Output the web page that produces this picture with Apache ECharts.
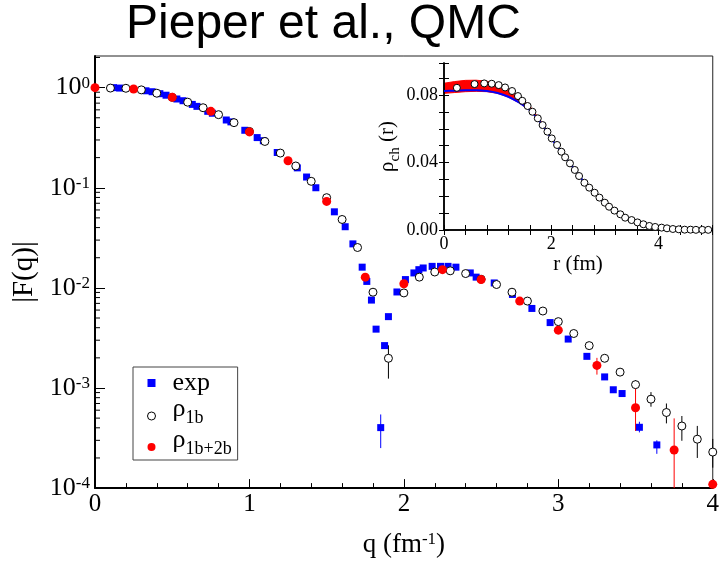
<!DOCTYPE html>
<html>
<head>
<meta charset="utf-8">
<script src="https://cdn.jsdelivr.net/npm/echarts@6/dist/echarts.min.js"></script>
<style>
  html, body { margin: 0; padding: 0; background: #fff; }
  #chart { width: 722px; height: 563px; }
</style>
</head>
<body>
<div id="chart"></div>
<script>
// Charge form factor |F(q)|: experiment vs. QMC with one-body and one+two-body operators.
const qExp = [0.12, 0.16, 0.33, 0.37, 0.42, 0.46, 0.53, 0.57, 0.63, 0.66, 0.73, 0.76, 0.85, 0.88, 0.97,
  1.05, 1.09, 1.18, 1.31, 1.37, 1.43, 1.55, 1.62, 1.67, 1.73, 1.76, 1.79, 1.82, 1.85, 1.875, 1.90,
  1.955, 2.01, 2.065, 2.097, 2.125, 2.183, 2.237, 2.286, 2.337, 2.43, 2.468, 2.585, 2.703, 2.829,
  2.947, 3.064, 3.185, 3.30, 3.356, 3.413, 3.525, 3.638];
const fExp = [1.0, 0.99, 0.93, 0.91, 0.87, 0.84, 0.77, 0.74, 0.68, 0.65, 0.58, 0.555, 0.475, 0.455, 0.375,
  0.317, 0.295, 0.225, 0.158, 0.128, 0.100, 0.0575, 0.0408, 0.0275, 0.0161, 0.0116, 0.00755, 0.00387, 0.000402, 0.00265, 0.00516,
  0.0091, 0.0121, 0.0141, 0.0152, 0.0158, 0.0164, 0.0164, 0.0164, 0.0161, 0.0141, 0.0128, 0.0112, 0.0086, 0.00623,
  0.0045, 0.00308, 0.00207, 0.00129, 0.00096, 0.00088, 0.000405, 0.00027];
const expErr = [[1.85, 0.000251, 0.000544], [3.525, 0.00036, 0.00046], [3.638, 0.00022, 0.0003]];

const q1b = [0.1, 0.2, 0.3, 0.4, 0.5, 0.6, 0.7, 0.8, 0.9, 1.0, 1.1, 1.2, 1.3, 1.4, 1.5, 1.6, 1.7, 1.8, 1.9, 2.0,
  2.1, 2.2, 2.3, 2.4, 2.5, 2.6, 2.7, 2.8, 2.9, 3.0, 3.1, 3.2, 3.3, 3.4, 3.5, 3.6, 3.7, 3.8, 3.9, 4.0];
const f1b = [0.99, 0.985, 0.95, 0.88, 0.80, 0.716, 0.63, 0.537, 0.447, 0.365, 0.29, 0.222, 0.165, 0.116, 0.0796, 0.0482, 0.0253, 0.00905, 0.00198, 0.0089,
  0.0128, 0.0144, 0.0148, 0.0139, 0.0122, 0.0108, 0.00905, 0.00738, 0.00587, 0.0046, 0.0035, 0.00265, 0.00198, 0.00144, 0.00108, 0.000773, 0.000569, 0.000417, 0.000308, 0.000229];
const err1b = [[1.9, 0.00124, 0.00267], [3.5, 0.00095, 0.0012], [3.6, 0.00065, 0.00091], [3.7, 0.000443, 0.0007],
  [3.8, 0.000297, 0.000525], [3.9, 0.0002, 0.000418], [4.0, 0.00016, 0.00031]];

const q12b = [0, 0.25, 0.5, 0.75, 1.0, 1.25, 1.5, 1.75, 2.0, 2.25, 2.5, 2.75, 3.0, 3.25, 3.5, 3.75, 4.0];
const f12b = [1.0, 0.97, 0.80, 0.58, 0.361, 0.186, 0.073, 0.0128, 0.0110, 0.0152, 0.0121, 0.00738, 0.00378, 0.00168, 0.000634, 0.00024, 0.000109];
const err12b = [[3.25, 0.00136, 0.002], [3.5, 0.000372, 0.00108], [3.75, 0.00001, 0.000497]];

// Inset: charge density rho_ch(r)
const rLine = [0, 0.2, 0.4, 0.6, 0.8, 1.0, 1.2, 1.4, 1.6, 1.8, 2.0, 2.2, 2.4, 2.6, 2.8, 3.0, 3.2, 3.4, 3.6, 3.8, 4.0, 4.2, 4.4, 4.6, 4.8, 5.0];
const rhoExp = [0.0824, 0.0826, 0.0828, 0.0828, 0.0824, 0.0812, 0.0790, 0.0756, 0.0712, 0.0638, 0.0545, 0.0458, 0.0374,
  0.0290, 0.0222, 0.0160, 0.0112, 0.0073, 0.0046, 0.0027, 0.0016, 0.0009, 0.0005, 0.0003, 0.0002, 0.0001];
const rBand = [0, 0.2, 0.4, 0.6, 0.8, 1.0, 1.2, 1.4, 1.6, 1.8, 2.0];
const bandLow = [0.0810, 0.0815, 0.0820, 0.0822, 0.0820, 0.0810, 0.0788, 0.0754, 0.0710, 0.0636, 0.0544];
const bandHigh = [0.0870, 0.0880, 0.0887, 0.0888, 0.0882, 0.0866, 0.0838, 0.0795, 0.0735, 0.0650, 0.0550];
const r1b = [0.24, 0.57, 0.75, 0.89, 1.02, 1.14, 1.27, 1.38, 1.46, 1.56, 1.65, 1.75, 1.84, 1.93, 2.01, 2.11, 2.19, 2.26,
  2.35, 2.44, 2.52, 2.62, 2.71, 2.81, 2.90, 3.00, 3.08, 3.18, 3.29, 3.38, 3.50, 3.61, 3.72, 3.83, 3.94, 4.06, 4.16,
  4.27, 4.38, 4.49, 4.60, 4.70, 4.82, 4.93];
const rho1b = [0.0843, 0.0865, 0.0869, 0.0867, 0.0859, 0.0845, 0.0824, 0.0794, 0.0766, 0.0735, 0.0701, 0.0662, 0.0622,
  0.0583, 0.0543, 0.0504, 0.0464, 0.0431, 0.0395, 0.0356, 0.0320, 0.0280, 0.0251, 0.0221, 0.0192, 0.0162, 0.0138,
  0.0115, 0.0093, 0.0073, 0.0059, 0.0045, 0.0034, 0.0024, 0.0018, 0.0014, 0.0010, 0.0006, 0.0004, 0.0002, 0.0002,
  0.0001, 0.0001, 0.0001];

const SERIF = 'Liberation Serif, Times New Roman, serif';
const BLUE = '#0000ff', RED = '#ff0000';

const pairs = (xs, ys) => xs.map((x, i) => [x, ys[i]]);

// log-axis minor ticks at 2..9 x 10^k
const yMinor = [];
for (let k = -4; k <= 0; k++) {
  for (let m = 2; m <= 9; m++) {
    const v = m * Math.pow(10, k);
    if (v < 2.07) yMinor.push([0, v]);
  }
}

function errorBarRenderer(color) {
  return function (params, api) {
    const x = api.value(0), lo = api.value(1), hi = api.value(2);
    const pHi = api.coord([x, hi]);
    const pLo = api.coord([x, lo]);
    const cs = params.coordSys;
    const y1 = Math.max(pHi[1], cs.y);
    const y2 = Math.min(pLo[1], cs.y + cs.height);
    return {
      type: 'line',
      shape: { x1: pHi[0], y1: y1, x2: pHi[0], y2: y2 },
      style: { stroke: color, lineWidth: 1 }
    };
  };
}

const supRich = {
  b: { fontFamily: SERIF, fontSize: 26, lineHeight: 26, color: '#000', padding: [11, 0, 0, 0], verticalAlign: 'bottom' },
  s: { fontFamily: SERIF, fontSize: 17, lineHeight: 17, color: '#000', verticalAlign: 'top' }
};

const chart = echarts.init(document.getElementById('chart'));
chart.setOption({
  animation: false,
  backgroundColor: '#fff',
  title: {
    text: 'Pieper et al., QMC',
    left: 126, top: 1, padding: 0,
    textStyle: { fontFamily: 'Liberation Sans, Arial, sans-serif', fontSize: 48, fontWeight: 'normal', color: '#000' }
  },
  legend: {
    orient: 'vertical',
    left: 133, top: 367,
    padding: [3, 6, 2, 14],
    itemGap: 0,
    itemWidth: 8, itemHeight: 8,
    borderColor: '#444', borderWidth: 1,
    backgroundColor: '#fff',
    data: [
      { name: 'exp', icon: 'rect', itemStyle: { color: BLUE } },
      { name: 'ρ1b', icon: 'circle', itemStyle: { color: '#fff', borderColor: '#000', borderWidth: 1 } },
      { name: 'ρ1b+2b', icon: 'circle', itemStyle: { color: RED } }
    ],
    formatter: function (name) {
      if (name === 'exp') return '{t|exp}';
      return '{r|ρ}{u|' + name.slice(1) + '}';
    },
    textStyle: {
      padding: [0, 0, 0, 12],
      rich: {
        t: { fontFamily: SERIF, fontSize: 26, lineHeight: 27, color: '#000' },
        r: { fontFamily: SERIF, fontSize: 26, lineHeight: 22, color: '#000', padding: [0, 0, 5, 0], verticalAlign: 'bottom' },
        u: { fontFamily: SERIF, fontSize: 18, lineHeight: 16, color: '#000', verticalAlign: 'bottom' }
      }
    }
  },
  grid: [
    { left: 95, top: 56, width: 623, height: 436, show: true, borderColor: '#222', borderWidth: 1, backgroundColor: 'transparent' },
    { left: 444, top: 63, width: 268, height: 167, show: false }
  ],
  xAxis: [
    {
      gridIndex: 0, type: 'value', min: 0, max: 4, interval: 1,
      name: '{t|q (fm}{s|-1}{t|)}', nameLocation: 'middle', nameGap: 37,
      nameTextStyle: {
        rich: {
          t: { fontFamily: SERIF, fontSize: 27, lineHeight: 27, color: '#000', padding: [9, 0, 0, 0], verticalAlign: 'bottom' },
          s: { fontFamily: SERIF, fontSize: 17, lineHeight: 17, color: '#000', verticalAlign: 'top' }
        }
      },
      axisLine: { lineStyle: { color: '#000', width: 2 } },
      axisTick: { inside: true, length: 9, lineStyle: { color: '#000', width: 1 } },
      minorTick: { show: true, splitNumber: 5, length: 5, lineStyle: { color: '#000', width: 1 } },
      splitLine: { show: false },
      axisLabel: { fontFamily: SERIF, fontSize: 25, color: '#000', margin: 4 }
    },
    {
      gridIndex: 1, type: 'value', min: 0, max: 5, interval: 0.4, z: 20,
      name: 'r (fm)', nameLocation: 'middle', nameGap: 19,
      nameTextStyle: { fontFamily: SERIF, fontSize: 21, color: '#000', verticalAlign: 'top' },
      axisLine: { lineStyle: { color: '#000', width: 1.5 } },
      axisTick: { inside: true, length: 5, lineStyle: { color: '#000', width: 1 } },
      splitLine: { show: false },
      axisLabel: {
        fontFamily: SERIF, fontSize: 18, color: '#000', margin: 5,
        formatter: function (v) {
          const n = Math.round(v);
          return (Math.abs(v - n) < 1e-6 && n % 2 === 0 && n < 5) ? String(n) : '';
        }
      }
    },
    {
      gridIndex: 1, type: 'value', position: 'top', min: 0, max: 5, interval: 0.4, z: 20,
      axisLine: { lineStyle: { color: '#000', width: 1.5 } },
      axisTick: { inside: true, length: 5, lineStyle: { color: '#000', width: 1 } },
      axisLabel: { show: false }, splitLine: { show: false }
    }
  ],
  yAxis: [
    {
      gridIndex: 0, type: 'log', logBase: 10, min: 1e-4, max: 2.07,
      name: '|F(q)|', nameLocation: 'middle', nameGap: 55, nameRotate: 90,
      nameTextStyle: { fontFamily: SERIF, fontSize: 29, color: '#000' },
      axisLine: { lineStyle: { color: '#000', width: 2 } },
      axisTick: { inside: true, length: 10, lineStyle: { color: '#000', width: 1 } },
      splitLine: { show: false },
      axisLabel: {
        margin: 5,
        showMaxLabel: false,
        formatter: function (v) {
          const e = Math.round(Math.log10(v));
          if (Math.abs(Math.log10(v) - e) > 1e-6) return '';
          return '{b|10}{s|' + e + '}';
        },
        rich: supRich
      }
    },
    {
      gridIndex: 1, type: 'value', min: 0, max: 0.099, interval: 0.01, z: 20,
      name: '{r|ρ}{c|ch}{r| (r)}', nameLocation: 'middle', nameGap: 36, nameRotate: 90,
      nameTextStyle: {
        rich: {
          r: { fontFamily: SERIF, fontSize: 21, lineHeight: 21, color: '#000', padding: [0, 0, 5, 0], verticalAlign: 'bottom' },
          c: { fontFamily: SERIF, fontSize: 15, lineHeight: 15, color: '#000', verticalAlign: 'bottom' }
        }
      },
      axisLine: { lineStyle: { color: '#000', width: 1.5 } },
      axisTick: { inside: true, length: 5, lineStyle: { color: '#000', width: 1 } },
      splitLine: { show: false },
      axisLabel: {
        fontFamily: SERIF, fontSize: 18, color: '#000', margin: 6,
        formatter: function (v) {
          const k = Math.round(v * 100);
          return (Math.abs(v * 100 - k) < 1e-6 && k % 4 === 0) ? v.toFixed(2) : '';
        }
      }
    },
    {
      gridIndex: 1, type: 'value', position: 'right', min: 0, max: 0.099, interval: 0.01, z: 20,
      axisLine: { lineStyle: { color: '#000', width: 1.5 } },
      axisTick: { inside: true, length: 5, lineStyle: { color: '#000', width: 1 } },
      axisLabel: { show: false }, splitLine: { show: false }
    }
  ],
  series: [
    {
      name: 'yMinorTicks', type: 'custom', xAxisIndex: 0, yAxisIndex: 0, silent: true, z: 3,
      data: yMinor,
      renderItem: function (params, api) {
        const p = api.coord([api.value(0), api.value(1)]);
        return { type: 'line', shape: { x1: p[0], y1: p[1], x2: p[0] + 5, y2: p[1] }, style: { stroke: '#000', lineWidth: 1 } };
      }
    },
    { name: 'expErr', type: 'custom', xAxisIndex: 0, yAxisIndex: 0, silent: true, z: 1, data: expErr, renderItem: errorBarRenderer(BLUE) },
    { name: 'err1b', type: 'custom', xAxisIndex: 0, yAxisIndex: 0, silent: true, z: 1, data: err1b, renderItem: errorBarRenderer('#000') },
    { name: 'err12b', type: 'custom', xAxisIndex: 0, yAxisIndex: 0, silent: true, z: 1, data: err12b, renderItem: errorBarRenderer(RED) },
    {
      name: 'exp', type: 'scatter', xAxisIndex: 0, yAxisIndex: 0, z: 2,
      symbol: 'rect', symbolSize: 7, itemStyle: { color: BLUE, opacity: 1 },
      data: pairs(qExp, fExp)
    },
    {
      name: 'ρ1b', type: 'scatter', xAxisIndex: 0, yAxisIndex: 0, z: 3,
      symbol: 'circle', symbolSize: 8, itemStyle: { color: '#fff', borderColor: '#000', borderWidth: 1, opacity: 1 },
      data: pairs(q1b, f1b)
    },
    {
      name: 'ρ1b+2b', type: 'scatter', xAxisIndex: 0, yAxisIndex: 0, z: 4,
      symbol: 'circle', symbolSize: 9, itemStyle: { color: RED, opacity: 1 },
      data: pairs(q12b, f12b)
    },
    // inset: red uncertainty band between bandLow and bandHigh
    {
      name: 'band', type: 'custom', xAxisIndex: 1, yAxisIndex: 1, silent: true, z: 20,
      data: [[rBand[0], bandLow[0]]],
      renderItem: function (params, api) {
        const upper = rBand.map((r, i) => api.coord([r, bandHigh[i]]));
        const lower = rBand.map((r, i) => api.coord([r, bandLow[i]])).reverse();
        return {
          type: 'polygon',
          shape: { points: upper.concat(lower) },
          style: { fill: RED, stroke: RED, lineWidth: 1 }
        };
      }
    },
    {
      name: 'rhoExp', type: 'line', xAxisIndex: 1, yAxisIndex: 1, z: 21,
      showSymbol: false, symbol: 'none', smooth: 0.3,
      lineStyle: { color: BLUE, width: 2 },
      data: pairs(rLine, rhoExp)
    },
    {
      name: 'rho1b', type: 'scatter', xAxisIndex: 1, yAxisIndex: 1, z: 22,
      symbol: 'circle', symbolSize: 7, itemStyle: { color: '#fff', borderColor: '#000', borderWidth: 1, opacity: 1 },
      data: pairs(r1b, rho1b)
    }
  ]
});
</script>
</body>
</html>
